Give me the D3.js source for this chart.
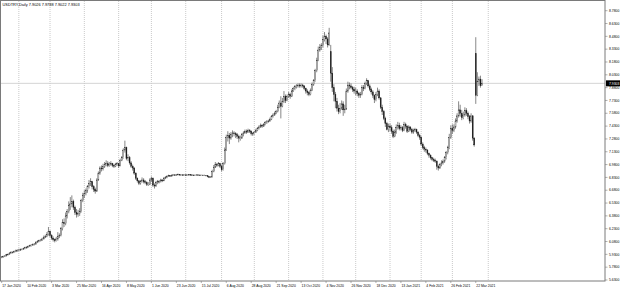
<!DOCTYPE html>
<html>
<head>
<meta charset="utf-8">
<script src="https://cdn.jsdelivr.net/npm/d3@7"></script>
<style>
    body {margin: 0; background: #fff;}
    text {font-family: "Liberation Sans", Arial, sans-serif;}
</style>
</head>
<body>
<svg id="chart" width="620" height="303"></svg>
<script>
var symbolName = "USDTRY,Daily";
var firstDay = "2020-01-17";
var holidays = ["2020-12-25", "2021-01-01"];
var separatorEnd = "2021-04-01";

// daily closes, one row per week
var closes = [
    5.900,
    5.905,5.912,5.925,5.930,5.945, 5.955,5.950,5.962,5.970,5.972,
    5.980,5.985,5.990,5.995,6.010, 6.010,6.022,6.030,6.038,6.045,
    6.050,6.070,6.080,6.090,6.095, 6.110,6.130,6.140,6.160,6.200,
    6.150,6.120,6.100,6.090,6.110, 6.140,6.150,6.230,6.300,6.290,
    6.380,6.430,6.500,6.520,6.550, 6.480,6.420,6.400,6.410,6.430,
    6.560,6.620,6.640,6.680,6.720, 6.760,6.780,6.720,6.690,6.670,
    6.800,6.880,6.940,6.930,6.960, 6.980,6.990,6.970,6.985,6.990,
    6.970,6.960,6.980,6.990,6.965, 7.030,7.060,7.150,7.180,7.050,
    7.060,7.000,6.960,6.940,6.880, 6.820,6.790,6.760,6.780,6.800,
    6.780,6.770,6.750,6.750,6.800, 6.820,6.740,6.730,6.770,6.780,
    6.780,6.800,6.790,6.820,6.830, 6.840,6.850,6.845,6.855,6.860,
    6.855,6.860,6.865,6.858,6.860, 6.858,6.860,6.855,6.860,6.862,
    6.860,6.858,6.855,6.857,6.860, 6.858,6.856,6.857,6.855,6.856,
    6.850,6.840,6.830,6.835,6.900, 6.950,6.980,6.970,6.990,6.960,
    6.920,6.990,7.150,7.300,7.320, 7.290,7.330,7.350,7.340,7.330,
    7.310,7.290,7.290,7.330,7.350, 7.370,7.360,7.380,7.370,7.340,
    7.340,7.360,7.380,7.400,7.420, 7.440,7.430,7.450,7.470,7.480,
    7.490,7.510,7.540,7.560,7.580, 7.600,7.650,7.700,7.660,7.720,
    7.780,7.730,7.780,7.800,7.780, 7.840,7.870,7.890,7.900,7.910,
    7.900,7.910,7.900,7.870,7.840, 7.820,7.800,7.850,7.920,7.960,
    8.080,8.200,8.320,8.350,8.370, 8.440,8.480,8.450,8.380,8.520,
    8.050,7.880,7.800,7.720,7.640, 7.600,7.640,7.690,7.620,7.630,
    7.840,7.910,7.900,7.880,7.860, 7.840,7.840,7.810,7.790,7.800,
    7.880,7.870,7.930,7.960,7.900, 7.860,7.830,7.790,7.740,7.800,
    7.840,7.760,7.650,7.600, 7.520,7.460,7.390,7.430,
    7.410,7.370,7.310,7.360,7.410, 7.440,7.400,7.410,7.380,7.450,
    7.430,7.370,7.420,7.390,7.360, 7.380,7.390,7.360,7.320,7.300,
    7.220,7.180,7.160,7.150,7.110, 7.090,7.060,7.040,7.030,7.020,
    6.960,6.940,6.980,7.000,7.020, 7.060,7.120,7.180,7.300,7.400,
    7.380,7.420,7.490,7.550,7.620, 7.580,7.530,7.560,7.610,7.580,
    7.540,7.490,7.550,7.290,7.210, 7.790,7.950,7.980,7.9026,7.9303
];

var highs = [
    5.910,
    5.915,5.920,5.935,5.940,5.955, 5.968,5.965,5.975,5.985,5.990,
    5.995,5.998,6.002,6.008,6.020, 6.025,6.035,6.042,6.050,6.058,
    6.062,6.085,6.095,6.102,6.110, 6.125,6.150,6.160,6.190,6.250,
    6.210,6.165,6.140,6.115,6.135, 6.190,6.175,6.250,6.340,6.350,
    6.420,6.460,6.550,6.600,6.620, 6.570,6.500,6.460,6.450,6.470,
    6.580,6.650,6.680,6.700,6.740, 6.800,6.820,6.790,6.740,6.710,
    6.820,6.900,6.960,6.970,6.990, 7.010,7.030,7.020,7.010,7.020,
    7.000,6.990,7.000,7.010,7.000, 7.050,7.080,7.170,7.260,7.190,
    7.100,7.080,7.020,6.980,6.950, 6.890,6.830,6.800,6.800,6.830,
    6.820,6.800,6.785,6.775,6.820, 6.840,6.830,6.760,6.790,6.800,
    6.800,6.815,6.810,6.835,6.845, 6.855,6.862,6.858,6.865,6.870,
    6.868,6.870,6.875,6.870,6.868, 6.866,6.868,6.865,6.866,6.870,
    6.868,6.866,6.862,6.864,6.866, 6.865,6.863,6.862,6.861,6.862,
    6.858,6.852,6.842,6.845,6.920, 6.975,7.010,7.000,7.010,7.000,
    6.980,7.010,7.180,7.330,7.370, 7.350,7.360,7.380,7.370,7.360,
    7.350,7.330,7.320,7.350,7.370, 7.390,7.390,7.400,7.395,7.380,
    7.360,7.375,7.400,7.420,7.440, 7.460,7.455,7.465,7.490,7.500,
    7.505,7.530,7.560,7.580,7.600, 7.620,7.680,7.730,7.780,7.760,
    7.840,7.800,7.800,7.830,7.820, 7.860,7.890,7.910,7.920,7.930,
    7.930,7.930,7.925,7.910,7.880, 7.860,7.840,7.870,7.940,7.980,
    8.100,8.230,8.360,8.390,8.400, 8.490,8.530,8.500,8.470,8.580,
    8.380,8.120,7.920,7.830,7.760, 7.680,7.700,7.730,7.720,7.680,
    7.870,7.950,7.940,7.930,7.900, 7.890,7.880,7.860,7.830,7.830,
    7.910,7.910,7.950,7.990,7.970, 7.920,7.880,7.850,7.800,7.830,
    7.880,7.860,7.770,7.680, 7.620,7.540,7.480,7.460,
    7.460,7.440,7.390,7.390,7.450, 7.480,7.470,7.440,7.430,7.480,
    7.470,7.440,7.440,7.430,7.410, 7.400,7.410,7.400,7.370,7.340,
    7.310,7.240,7.200,7.180,7.160, 7.120,7.100,7.070,7.060,7.050,
    7.030,6.980,7.000,7.030,7.040, 7.080,7.140,7.200,7.340,7.440,
    7.450,7.450,7.520,7.580,7.720, 7.680,7.620,7.600,7.650,7.640,
    7.600,7.560,7.580,7.560,7.300, 8.470,8.060,8.010,8.020,7.9788
];

var lows = [
    5.885,
    5.890,5.898,5.905,5.915,5.925, 5.938,5.940,5.945,5.955,5.960,
    5.965,5.970,5.978,5.982,5.990, 5.998,6.005,6.015,6.022,6.030,
    6.035,6.045,6.062,6.072,6.080, 6.088,6.105,6.120,6.130,6.150,
    6.130,6.100,6.080,6.070,6.080, 6.090,6.120,6.140,6.210,6.250,
    6.270,6.350,6.410,6.450,6.480, 6.450,6.390,6.360,6.370,6.380,
    6.420,6.540,6.590,6.620,6.650, 6.700,6.730,6.690,6.660,6.640,
    6.660,6.790,6.860,6.900,6.910, 6.940,6.960,6.950,6.955,6.965,
    6.950,6.940,6.950,6.965,6.940, 6.960,7.020,7.050,7.120,7.030,
    7.020,6.980,6.940,6.910,6.860, 6.800,6.770,6.740,6.745,6.770,
    6.760,6.750,6.730,6.730,6.740, 6.780,6.720,6.700,6.720,6.750,
    6.760,6.770,6.775,6.785,6.810, 6.820,6.835,6.835,6.840,6.848,
    6.848,6.850,6.855,6.850,6.852, 6.852,6.852,6.848,6.850,6.855,
    6.852,6.850,6.850,6.850,6.852, 6.852,6.850,6.851,6.850,6.850,
    6.842,6.832,6.822,6.825,6.830, 6.890,6.940,6.950,6.960,6.940,
    6.900,6.910,6.980,7.140,7.250, 7.220,7.270,7.300,7.310,7.290,
    7.280,7.240,7.260,7.280,7.310, 7.340,7.340,7.350,7.350,7.320,
    7.315,7.330,7.350,7.370,7.390, 7.410,7.410,7.420,7.440,7.455,
    7.470,7.480,7.500,7.530,7.550, 7.570,7.590,7.640,7.520,7.650,
    7.700,7.700,7.720,7.760,7.750, 7.770,7.830,7.850,7.870,7.880,
    7.880,7.880,7.880,7.850,7.810, 7.790,7.780,7.790,7.840,7.900,
    7.950,8.060,8.190,8.300,8.320, 8.350,8.420,8.390,8.350,8.370,
    7.950,7.830,7.720,7.640,7.600, 7.570,7.580,7.620,7.550,7.580,
    7.620,7.820,7.860,7.860,7.830, 7.810,7.790,7.780,7.760,7.760,
    7.790,7.840,7.860,7.910,7.880, 7.840,7.800,7.760,7.700,7.720,
    7.780,7.740,7.630,7.560, 7.500,7.420,7.380,7.360,
    7.370,7.340,7.290,7.300,7.340, 7.390,7.380,7.380,7.360,7.370,
    7.400,7.350,7.360,7.370,7.340, 7.340,7.360,7.340,7.300,7.270,
    7.200,7.160,7.130,7.120,7.090, 7.060,7.040,7.020,7.010,7.000,
    6.920,6.910,6.930,6.960,6.980, 7.000,7.040,7.100,7.160,7.280,
    7.340,7.360,7.400,7.470,7.530, 7.540,7.500,7.510,7.540,7.550,
    7.510,7.460,7.470,7.260,7.190, 7.690,7.780,7.900,7.880,7.9022
];

// opens that do not equal the previous close (weekend gaps)
var gapOpens = {"2020-01-17": 5.895, "2020-11-09": 8.300, "2021-03-22": 8.280};

var priceTicks = [8.78, 8.63, 8.48, 8.33, 8.18, 8.03, 7.88, 7.73, 7.58, 7.43, 7.28,
    7.13, 6.98, 6.83, 6.68, 6.53, 6.38, 6.23, 6.08, 5.93, 5.78, 5.63];

var dateLabels = ["17 Jan 2020", "10 Feb 2020", "3 Mar 2020", "25 Mar 2020", "16 Apr 2020",
    "8 May 2020", "1 Jun 2020", "23 Jun 2020", "15 Jul 2020", "6 Aug 2020", "28 Aug 2020",
    "21 Sep 2020", "13 Oct 2020", "4 Nov 2020", "26 Nov 2020", "18 Dec 2020", "13 Jan 2021",
    "4 Feb 2021", "26 Feb 2021", "22 Mar 2021"];

var svg = d3.select("#chart");
var plotRight = 605, plotBottom = 281;
var fmt4 = d3.format(".4f");

var parseDay = d3.timeParse("%Y-%m-%d"),
    formatDay = d3.timeFormat("%Y-%m-%d"),
    parseLabel = d3.timeParse("%d %b %Y");

// trading day slots, with empty future slots on the right (chart shift)
var slots = [];
var day = parseDay(firstDay);
while (slots.length < 388) {
    var key = formatDay(day);
    if (day.getDay() !== 0 && day.getDay() !== 6 && holidays.indexOf(key) < 0) slots.push(key);
    day = d3.timeDay.offset(day, 1);
}

var xScale = d3.scaleBand().domain(slots).range([0.9, 606]);
var half = xScale.bandwidth() / 2;
function cx(date) { return xScale(date) + half; }

var yScale = d3.scaleLinear()
    .domain([priceTicks[0], priceTicks[priceTicks.length - 1]])
    .range([10.7, 280]);

var bars = closes.map(function (c, i) {
    var date = slots[i];
    return {
        date: date,
        open: gapOpens[date] !== undefined ? gapOpens[date] : (i ? closes[i - 1] : c),
        high: highs[i],
        low: lows[i],
        close: c
    };
});
var last = bars[bars.length - 1];

svg.append("rect").attr("width", 620).attr("height", 303).attr("fill", "#fff");

svg.append("clipPath").attr("id", "plotClip")
    .append("rect").attr("x", 0.5).attr("y", 0.5)
    .attr("width", plotRight - 0.5).attr("height", plotBottom - 0.5);

var plot = svg.append("g").attr("clip-path", "url(#plotClip)");

// month separators
var separators = slots.filter(function (d, i) {
    return i > 0 && d.slice(5, 7) !== slots[i - 1].slice(5, 7) && d <= separatorEnd;
});
plot.selectAll(".sep").data(separators).enter()
    .append("line")
    .attr("class", "sep")
    .attr("x1", function (d) { return cx(d); })
    .attr("x2", function (d) { return cx(d); })
    .attr("y1", 1).attr("y2", plotBottom)
    .attr("stroke", "#bcbcbc")
    .attr("stroke-width", 0.8)
    .attr("stroke-dasharray", "1,1");

// bid line
plot.append("line")
    .attr("x1", 0).attr("x2", plotRight)
    .attr("y1", yScale(last.close)).attr("y2", yScale(last.close))
    .attr("stroke", "#c8c8c8")
    .attr("stroke-width", 0.8);

var candles = plot.selectAll(".candle").data(bars).enter()
    .append("g").attr("class", "candle");

candles.append("line")
    .attr("x1", function (d) { return cx(d.date); })
    .attr("x2", function (d) { return cx(d.date); })
    .attr("y1", function (d) { return yScale(d.high); })
    .attr("y2", function (d) { return yScale(d.low); })
    .attr("stroke", "#555")
    .attr("stroke-width", 0.7);

candles.append("rect")
    .attr("x", function (d) { return cx(d.date) - 0.5; })
    .attr("width", 1)
    .attr("y", function (d) { return yScale(Math.max(d.open, d.close)); })
    .attr("height", function (d) {
        return Math.max(0.5, Math.abs(yScale(d.open) - yScale(d.close)));
    })
    .attr("fill", function (d) { return d.close >= d.open ? "#fff" : "#111"; })
    .attr("stroke", "#222")
    .attr("stroke-width", 0.35);

// frame
svg.append("rect")
    .attr("x", 0.5).attr("y", 0.5)
    .attr("width", plotRight - 0.5).attr("height", plotBottom - 0.5)
    .attr("fill", "none")
    .attr("stroke", "#7a7a7a")
    .attr("stroke-width", 1);

// price axis
var yAxis = svg.append("g");
yAxis.selectAll("line").data(priceTicks).enter()
    .append("line")
    .attr("x1", plotRight).attr("x2", plotRight + 2.5)
    .attr("y1", function (d) { return yScale(d); })
    .attr("y2", function (d) { return yScale(d); })
    .attr("stroke", "#7a7a7a").attr("stroke-width", 0.6);
yAxis.selectAll("text").data(priceTicks).enter()
    .append("text")
    .attr("x", plotRight + 4)
    .attr("y", function (d) { return yScale(d) + 1.2; })
    .attr("font-size", 3.4)
    .attr("fill", "#000")
    .text(function (d) { return fmt4(d); });

svg.append("rect")
    .attr("x", plotRight + 1).attr("y", yScale(last.close) - 3)
    .attr("width", 14).attr("height", 6)
    .attr("fill", "#000");
svg.append("text")
    .attr("x", plotRight + 4).attr("y", yScale(last.close) + 1.2)
    .attr("font-size", 3.4)
    .attr("fill", "#fff")
    .text(fmt4(last.close));

// time axis
var xAxis = svg.append("g");
var labelDays = dateLabels.map(function (t) { return {text: t, date: formatDay(parseLabel(t))}; });
xAxis.selectAll("line").data(labelDays).enter()
    .append("line")
    .attr("x1", function (d) { return cx(d.date); })
    .attr("x2", function (d) { return cx(d.date); })
    .attr("y1", plotBottom).attr("y2", plotBottom + 2)
    .attr("stroke", "#7a7a7a").attr("stroke-width", 0.6);
xAxis.selectAll("text").data(labelDays).enter()
    .append("text")
    .attr("x", function (d) { return cx(d.date) + 0.5; })
    .attr("y", plotBottom + 5.6)
    .attr("font-size", 3.4)
    .attr("fill", "#000")
    .text(function (d) { return d.text; });

// title with the last bar's OHLC
svg.append("text")
    .attr("x", 2.5).attr("y", 6.4)
    .attr("font-size", 3.9)
    .attr("fill", "#000")
    .text(symbolName + "  " + [last.open, last.high, last.low, last.close].map(fmt4).join(" "));
</script>
</body>
</html>
